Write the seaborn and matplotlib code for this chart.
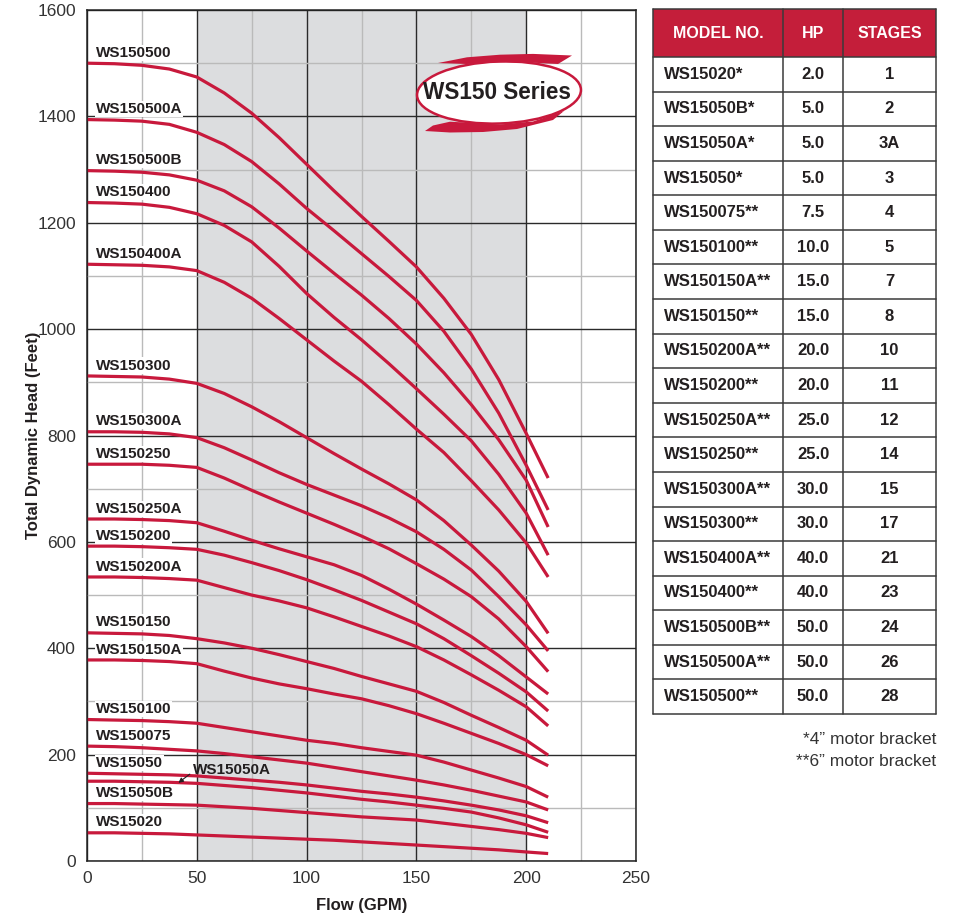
import numpy as np
import pandas as pd
import matplotlib
matplotlib.use("Agg")
import matplotlib.pyplot as plt
import seaborn as sns
from matplotlib.patches import Ellipse, Polygon, Rectangle

# flow points (GPM)
flow = [0, 12.5, 25, 37.5, 50, 62.5, 75, 87.5, 100, 112.5,
        125, 137.5, 150, 162.5, 175, 187.5, 200, 210]

# head (feet) for each pump curve at the flow points above
ws150500 = [1500, 1499, 1496, 1489, 1474, 1444, 1406, 1360, 1310, 1260,
            1212, 1165, 1117, 1058, 990, 905, 804, 720]
ws150500a = [1394, 1393, 1391, 1385, 1370, 1347, 1315, 1273, 1227, 1185,
             1142, 1099, 1054, 996, 925, 842, 744, 660]
ws150500b = [1298, 1297, 1295, 1290, 1280, 1260, 1230, 1190, 1147, 1105,
             1064, 1020, 972, 918, 858, 792, 716, 628]
ws150400 = [1238, 1237, 1235, 1229, 1217, 1195, 1164, 1118, 1067, 1022,
            980, 935, 888, 840, 790, 727, 654, 575]
ws150400a = [1122, 1121, 1120, 1117, 1110, 1088, 1058, 1020, 980, 940,
             902, 858, 812, 768, 715, 660, 598, 534]
ws150300 = [912, 911, 910, 906, 898, 879, 854, 826, 796, 766,
            737, 709, 679, 640, 594, 545, 488, 428]
ws150300a = [807, 807, 806, 803, 796, 777, 754, 730, 708, 688,
             668, 645, 619, 586, 547, 497, 444, 395]
ws150250 = [746, 746, 746, 744, 740, 720, 697, 675, 654, 633,
            611, 587, 559, 530, 497, 455, 403, 356]
ws150250a = [643, 643, 642, 640, 636, 620, 603, 587, 572, 557,
             537, 511, 483, 453, 422, 386, 346, 314]
ws150200 = [592, 592, 591, 589, 586, 575, 561, 546, 529, 510,
            490, 468, 446, 418, 386, 353, 318, 282]
ws150200a = [534, 534, 533, 531, 528, 514, 500, 489, 476, 459,
             441, 423, 403, 378, 350, 321, 290, 254]
ws150150 = [429, 428, 427, 424, 418, 410, 400, 388, 375, 362,
            347, 333, 319, 298, 274, 251, 227, 199]
ws150150a = [378, 378, 377, 375, 371, 357, 344, 333, 324, 314,
             305, 292, 277, 259, 240, 221, 200, 179]
ws150100 = [266, 265, 264, 262, 259, 251, 243, 235, 227, 221,
            213, 206, 199, 186, 171, 156, 140, 120]
ws150075 = [216, 215, 213, 210, 207, 202, 196, 190, 184, 176,
            168, 160, 152, 143, 133, 122, 111, 96]
ws15050 = [165, 164, 163, 162, 160, 156, 152, 148, 143, 137,
           131, 126, 120, 113, 105, 96, 85, 72]
ws15050a = [150, 150, 149, 148, 146, 142, 138, 133, 128, 122,
            116, 111, 105, 99, 92, 81, 68, 54]
ws15050b = [108, 108, 107, 106, 105, 102, 99, 95, 91, 87,
            83, 80, 77, 71, 65, 59, 52, 44]
ws15020 = [53, 53, 52, 51, 49, 47, 45, 43, 41, 39,
           36, 33, 30, 27, 24, 21, 17, 14]

curve_names = ["WS150500", "WS150500A", "WS150500B", "WS150400", "WS150400A",
               "WS150300", "WS150300A", "WS150250", "WS150250A", "WS150200",
               "WS150200A", "WS150150", "WS150150A", "WS150100", "WS150075",
               "WS15050", "WS15050A", "WS15050B", "WS15020"]
curve_heads = [ws150500, ws150500a, ws150500b, ws150400, ws150400a,
               ws150300, ws150300a, ws150250, ws150250a, ws150200,
               ws150200a, ws150150, ws150150a, ws150100, ws150075,
               ws15050, ws15050a, ws15050b, ws15020]

# table on the right
table_models = ["WS15020*", "WS15050B*", "WS15050A*", "WS15050*", "WS150075**",
                "WS150100**", "WS150150A**", "WS150150**", "WS150200A**", "WS150200**",
                "WS150250A**", "WS150250**", "WS150300A**", "WS150300**", "WS150400A**",
                "WS150400**", "WS150500B**", "WS150500A**", "WS150500**"]
table_hp = ["2.0", "5.0", "5.0", "5.0", "7.5", "10.0", "15.0", "15.0", "20.0", "20.0",
            "25.0", "25.0", "30.0", "30.0", "40.0", "40.0", "50.0", "50.0", "50.0"]
table_stages = ["1", "2", "3A", "3", "4", "5", "7", "8", "10", "11",
                "12", "14", "15", "17", "21", "23", "24", "26", "28"]
table_header = ["MODEL NO.", "HP", "STAGES"]

RED = "#C8193C"
INK = "#231F20"

sns.set_theme(style="white")
plt.rcParams["font.family"] = ["Liberation Sans", "DejaVu Sans"]

rows = []
for name, heads in zip(curve_names, curve_heads):
    for q, h in zip(flow, heads):
        rows.append((name, q, h))
df = pd.DataFrame(rows, columns=["model", "flow", "head"])

W, H = 959, 916
fig = plt.figure(figsize=(W / 100, H / 100), dpi=100)
ax = fig.add_axes([87 / W, 55 / H, 549 / W, 851 / H])

ax.axvspan(50, 200, color="#DCDDDF", zorder=0, lw=0)

sns.lineplot(data=df, x="flow", y="head", hue="model", hue_order=curve_names,
             palette={n: RED for n in curve_names}, estimator=None, sort=False,
             legend=False, linewidth=2.3, ax=ax)
for ln in ax.lines:
    ln.set_solid_capstyle("butt")
    ln.set_solid_joinstyle("round")

ax.set_xlim(0, 250)
ax.set_ylim(0, 1600)
ax.set_xticks(range(0, 251, 50))
ax.set_xticks(range(25, 250, 50), minor=True)
ax.set_yticks(range(0, 1601, 200))
ax.set_yticks(range(100, 1600, 200), minor=True)
ax.set_axisbelow(True)
ax.grid(which="major", color="#2a2a2a", lw=1.0)
ax.grid(which="minor", color="#bababa", lw=1.0)
ax.tick_params(which="both", length=0, labelsize=12.5, labelcolor="#333333")
ax.tick_params(axis="x", pad=7)
ax.tick_params(axis="y", pad=8)
for sp in ax.spines.values():
    sp.set_color("#222222")
    sp.set_linewidth(1.1)

ax.set_xlabel("Flow (GPM)", fontsize=12, fontweight="bold", color=INK, labelpad=9)
ax.set_ylabel("Total Dynamic Head (Feet)", fontsize=12, fontweight="bold", color=INK,
              labelpad=-2.5)

# curve labels
for name, heads in zip(curve_names, curve_heads):
    if name == "WS15050A":
        ax.annotate(name, xy=(41.6, 147), xytext=(48.3, 172),
                    ha="left", va="center", fontsize=11, fontweight="bold", color=INK,
                    arrowprops=dict(arrowstyle="-|>", color=INK, lw=0.8, relpos=(0, 0.35),
                                    shrinkA=0, shrinkB=0, mutation_scale=7))
        continue
    ax.annotate(name, xy=(4, heads[0]), xytext=(0, 7.5), textcoords="offset points",
                ha="left", va="center", fontsize=11, fontweight="bold", color=INK,
                bbox=dict(fc="white", ec="none", pad=0.8), zorder=4)

# "WS150 Series" badge
bx = fig.add_axes([410 / W, 1 - 135 / H, 180 / W, 85 / H])
bx.set_xlim(-90, 90)
bx.set_ylim(-42.5, 42.5)
bx.axis("off")
bx.patch.set_alpha(0)
bx.add_patch(Ellipse((-1, 0), 164, 62, angle=2, fc="white", ec=RED, lw=1.8))
top_band = [(-62, 29.5), (-33, 35.2), (0, 37.8), (33, 38.6), (72, 37),
            (58, 28.5), (33, 29.8), (0, 30.2), (-33, 28.5)]
bottom_band = [(-75, -38.5), (-67, -33), (-50, -29.2), (0, -32), (33, -29), (64, -18.5),
               (53, -27.5), (17, -36.5), (-17, -39.5), (-50, -40)]
bx.add_patch(Polygon(top_band, closed=True, fc=RED, ec="none"))
bx.add_patch(Polygon(bottom_band, closed=True, fc=RED, ec="none"))
bx.text(-3, 0, "WS150 Series", ha="center", va="center", fontsize=16.3,
        fontweight="bold", color=INK)

# model table
tx = fig.add_axes([653 / W, 1 - 714 / H, 283 / W, 705 / H])
tx.set_xlim(0, 283)
tx.set_ylim(705, 0)
tx.axis("off")
col_edges = [0, 130, 190, 283]
head_h = 48
row_h = (705 - head_h) / len(table_models)
tx.add_patch(Rectangle((0, 0), 283, head_h, fc="#C41E3A", ec="none"))
hx = [(col_edges[0] + col_edges[1]) / 2, (col_edges[1] + col_edges[2]) / 2,
      (col_edges[2] + col_edges[3]) / 2]
for x, lab in zip(hx, table_header):
    tx.text(x, head_h / 2, lab, ha="center", va="center", fontsize=11.5,
            fontweight="bold", color="white")
for i, (m, hp, st) in enumerate(zip(table_models, table_hp, table_stages)):
    yc = head_h + row_h * (i + 0.5)
    tx.text(11, yc, m, ha="left", va="center", fontsize=12, fontweight="bold", color=INK)
    tx.text(hx[1], yc, hp, ha="center", va="center", fontsize=12, fontweight="bold", color=INK)
    tx.text(hx[2], yc, st, ha="center", va="center", fontsize=12, fontweight="bold", color=INK)
for i in range(len(table_models) + 1):
    y = head_h + row_h * i
    tx.plot([0, 283], [y, y], color="#3a3a3a", lw=1.1, clip_on=False)
tx.plot([0, 283], [0, 0], color="#3a3a3a", lw=1.1, clip_on=False)
for x in col_edges:
    tx.plot([x, x], [0, 705], color="#3a3a3a", lw=1.1, clip_on=False)

fig.text(936 / W, 1 - 740 / H, "*4\u201d motor bracket", ha="right", va="center",
         fontsize=12.5, color="#333333")
fig.text(936 / W, 1 - 761 / H, "**6\u201d motor bracket", ha="right", va="center",
         fontsize=12.5, color="#333333")

fig.savefig("out.png", dpi=100)
